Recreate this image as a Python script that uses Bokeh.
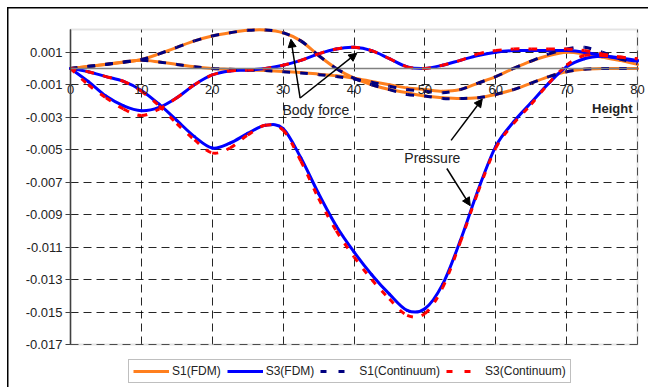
from bokeh.plotting import figure
from bokeh.models import (FixedTicker, PrintfTickFormatter, Label, Arrow, NormalHead, Legend,
                          LegendItem, BoxAnnotation)
from bokeh.embed import file_html
from bokeh.resources import INLINE

# ---------------- data ----------------
height = [0, 2.5, 5, 7.5, 10, 12.5, 15, 17.5, 20, 22.5, 25, 27.5, 30, 32.5, 35, 37.5,
          40, 42.5, 45, 47.5, 50, 52.5, 55, 57.5, 60, 62.5, 65, 67.5, 70, 72.5, 75, 77.5, 80]

# S1 (FDM) - body force curve and pressure curve
s1_fdm_body = [0, 0.00013, 0.00026, 0.0004, 0.00055, 0.0009, 0.0013, 0.0017, 0.002, 0.0022,
               0.00235, 0.00237, 0.0022, 0.0017, 0.0008, 0.0, -0.0006, -0.001, -0.0013, -0.0015,
               -0.0017, -0.0018, -0.00185, -0.0018, -0.0016, -0.0013, -0.0009, -0.0005, -0.0002,
               -0.00005, 0.0, 0.0, 0.0]
s1_fdm_press = [0, 0.00012, 0.00025, 0.00038, 0.0005, 0.0004, 0.00025, 0.0001, 0.0, -0.00005,
                -0.0001, -0.00013, -0.00018, -0.00025, -0.00035, -0.00045, -0.0006, -0.0008, -0.001,
                -0.0012, -0.0013, -0.0014, -0.0013, -0.0009, -0.0005, 0.0, 0.00045, 0.0008, 0.001,
                0.0009, 0.0007, 0.0005, 0.00025]
# S3 (FDM)
s3_fdm_press = [0, -0.0002, -0.0005, -0.0008, -0.00135, -0.0022, -0.0032, -0.0042, -0.0049, -0.0046,
                -0.004, -0.0035, -0.0037, -0.0055, -0.0077, -0.0097, -0.0113, -0.0127, -0.0139, -0.0149,
                -0.0148, -0.0133, -0.0106, -0.0075, -0.0048, -0.0033, -0.0021, -0.0009, 0.0001, 0.0006,
                0.00075, 0.00065, 0.0005]
s3_fdm_body = [0, -0.0008, -0.0017, -0.0023, -0.0026, -0.0024, -0.0018, -0.001, -0.0004, -0.00015,
               -0.0001, 0.0, 0.0002, 0.0005, 0.0009, 0.0012, 0.0013, 0.0011, 0.0006, 0.0001, 0.0,
               0.0002, 0.0005, 0.0008, 0.001, 0.0011, 0.0011, 0.0011, 0.0011, 0.001, 0.0008, 0.0006,
               0.00045]
# S1 (Continuum)
s1_cont_body = [0, 0.00013, 0.00026, 0.0004, 0.00055, 0.0009, 0.0013, 0.0017, 0.002, 0.0022,
                0.00235, 0.00237, 0.0022, 0.0017, 0.0008, 0.0, -0.0006, -0.001, -0.0013, -0.0016,
                -0.0017, -0.00185, -0.00185, -0.0018, -0.0016, -0.0013, -0.0009, -0.0005, -0.0002,
                -0.00005, 0.0, 0.0, 0.0]
s1_cont_press = [0, 0.00012, 0.00025, 0.00038, 0.0005, 0.0004, 0.00025, 0.0001, 0.0, -0.00005,
                 -0.0001, -0.00013, -0.0002, -0.00028, -0.00038, -0.0005, -0.00065, -0.00085, -0.0011,
                 -0.0013, -0.0014, -0.0015, -0.0013, -0.0009, -0.0005, 0.0, 0.00045, 0.0009, 0.0012,
                 0.0013, 0.001, 0.0006, 0.0003]
# S3 (Continuum)
s3_cont_press = [0, -0.0002, -0.0005, -0.0008, -0.0014, -0.0023, -0.0034, -0.0044, -0.0052, -0.0049,
                 -0.0041, -0.0035, -0.0038, -0.0057, -0.008, -0.01, -0.0116, -0.013, -0.0142, -0.0152,
                 -0.0151, -0.0135, -0.0107, -0.0076, -0.0049, -0.0034, -0.0022, -0.0009, 0.0002, 0.0008,
                 0.0008, 0.0007, 0.0006]
s3_cont_body = [0, -0.001, -0.0018, -0.0025, -0.0029, -0.0025, -0.0018, -0.001, -0.0004, -0.00015,
                -0.0001, 0.0, 0.0002, 0.0005, 0.0009, 0.0012, 0.0013, 0.0011, 0.0006, 0.0001, 0.0,
                0.0002, 0.0005, 0.0009, 0.0011, 0.0012, 0.0012, 0.0012, 0.0012, 0.0011, 0.0009, 0.0007,
                0.0006]

x_ticks = [0, 10, 20, 30, 40, 50, 60, 70, 80]
y_ticks = [0.001, -0.001, -0.003, -0.005, -0.007, -0.009, -0.011, -0.013, -0.015, -0.017]
y_min, y_max = -0.017, 0.0024
x_min, x_max = 0, 80
series_labels = ["S1(FDM)", "S3(FDM)", "S1(Continuum)", "S3(Continuum)"]

ORANGE = "#FF7F1E"
BLUE = "#0000FF"
NAVY = "#000080"
RED = "#FF0000"
FONT = "Liberation Sans"
TXT = "#222222"

# ---------------- layout geometry (pixels) ----------------
W, H = 648, 387
PL, PR, PT, PB = 70, 637, 29, 344          # plot-area edges inside the canvas
kx = (PR - PL) / (x_max - x_min)
ky = (PB - PT) / (y_max - y_min)
xr = (x_min - PL / kx, x_max + (W - PR) / kx)
yr = (y_min - (H - PB) / ky, y_max + PT / ky)

# the data frame covers the whole canvas so nothing (labels, legend) is clipped;
# the axes sit at x=0 / y=0 and are bounded to the plot area
p = figure(width=W, height=H, x_range=xr, y_range=yr,
           output_backend="svg", toolbar_location=None, title=None,
           min_border=0)
p.background_fill_color = None
p.border_fill_color = None
p.outline_line_color = None
# outer chart-area border (left and top edges visible in the reference)
p.styles = {"box-shadow": "inset 7px 7px 0 0 #ffffff, inset 8.5px 8.5px 0 0 #000000",
            "background-color": "#ffffff"}

xt = FixedTicker(ticks=x_ticks)
yt = FixedTicker(ticks=y_ticks)

p.xaxis.fixed_location = 0
p.xaxis.bounds = (x_min, x_max)
p.xaxis.ticker = xt
p.xaxis.axis_line_color = "#808080"
p.xaxis.axis_line_width = 1.5
p.xaxis.major_tick_line_color = None
p.xaxis.minor_tick_line_color = None
p.xaxis.major_tick_out = 0
p.xaxis.major_tick_in = 0
p.xaxis.major_label_standoff = 17
p.xaxis.major_label_text_font = FONT
p.xaxis.major_label_text_font_size = "13px"
p.xaxis.major_label_text_color = TXT

p.yaxis.fixed_location = 0
p.yaxis.ticker = yt
p.yaxis.bounds = (y_min, y_max)
p.yaxis.formatter = PrintfTickFormatter(format="%.3f")
p.yaxis.axis_line_color = "#404040"
p.yaxis.axis_line_width = 1.5
p.yaxis.major_tick_line_color = "#404040"
p.yaxis.major_tick_out = 5
p.yaxis.major_tick_in = 0
p.yaxis.minor_tick_line_color = None
p.yaxis.major_label_standoff = 3
p.yaxis.major_label_text_font = FONT
p.yaxis.major_label_text_font_size = "13px"
p.yaxis.major_label_text_color = TXT

p.xgrid.ticker = xt
p.ygrid.ticker = yt
p.xgrid.cross_bounds = (y_min, y_max)
p.ygrid.cross_bounds = (x_min, x_max)
for g in (p.xgrid, p.ygrid):
    g.grid_line_color = "#000000"
    g.grid_line_dash = "8 5"
    g.grid_line_alpha = 0.85
    g.grid_line_width = 1

# plot-area border
p.add_layout(BoxAnnotation(left=x_min, right=x_max, bottom=y_min, top=y_max,
                           fill_alpha=0, line_color="#a6a6a6", line_width=2, level="underlay"))


# ---------------- smoothed lines (Excel-style smoothing drawn as Bezier segments) ----------------
def smooth(xs, ys, **style):
    n = len(xs)
    d = dict(x0=[], y0=[], x1=[], y1=[], cx0=[], cy0=[], cx1=[], cy1=[])
    for i in range(n - 1):
        a = max(i - 1, 0)
        b = min(i + 2, n - 1)
        d["x0"].append(xs[i]); d["y0"].append(ys[i])
        d["x1"].append(xs[i + 1]); d["y1"].append(ys[i + 1])
        d["cx0"].append(xs[i] + (xs[i + 1] - xs[a]) / 6)
        d["cy0"].append(ys[i] + (ys[i + 1] - ys[a]) / 6)
        d["cx1"].append(xs[i + 1] - (xs[b] - xs[i]) / 6)
        d["cy1"].append(ys[i + 1] - (ys[b] - ys[i]) / 6)
    return p.bezier(source=d, x0="x0", y0="y0", x1="x1", y1="y1",
                    cx0="cx0", cy0="cy0", cx1="cx1", cy1="cy1", **style)


solid_orange = dict(line_color=ORANGE, line_width=3, line_cap="round")
solid_blue = dict(line_color=BLUE, line_width=3, line_cap="round")
dash_navy = dict(line_color=NAVY, line_width=3, line_dash="7 10")
dash_red = dict(line_color=RED, line_width=3, line_dash="6 9")

for ys in (s1_fdm_body, s1_fdm_press):
    smooth(height, ys, **solid_orange)
for ys in (s3_fdm_press, s3_fdm_body):
    smooth(height, ys, **solid_blue)
for ys in (s1_cont_body, s1_cont_press):
    smooth(height, ys, **dash_navy)
for ys in (s3_cont_press, s3_cont_body):
    smooth(height, ys, **dash_red)

# legend proxies: one-point lines (invisible on the chart) carrying each series' style
proxies = [
    p.line(height[:1], s1_fdm_body[:1], line_color=ORANGE, line_width=3),
    p.line(height[:1], s3_fdm_body[:1], line_color=BLUE, line_width=3),
    p.line(height[:1], s1_cont_body[:1], line_color=NAVY, line_width=3, line_dash="6 12"),
    p.line(height[:1], s3_cont_body[:1], line_color=RED, line_width=3, line_dash="6 12"),
]

# ---------------- annotations ----------------
def arrow(xs, ys, xe, ye):
    p.add_layout(Arrow(end=NormalHead(size=8, fill_color="black", line_color="black", line_width=1),
                       x_start=xs, y_start=ys, x_end=xe, y_end=ye,
                       line_color="black", line_width=1.5))

arrow(32.4, -0.00182, 31.1, 0.0018)
arrow(32.4, -0.00182, 40.4, 0.00094)
arrow(53.7, -0.00443, 58.1, -0.00188)
arrow(53.1, -0.00616, 56.4, -0.00845)

p.add_layout(Label(x=29.9, y=-0.00258, text="Body force", text_font=FONT, text_font_size="14px",
                   text_color=TXT, text_baseline="middle", text_align="left"))
p.add_layout(Label(x=47.1, y=-0.00553, text="Pressure", text_font=FONT, text_font_size="14px",
                   text_color=TXT, text_baseline="middle", text_align="left"))
p.add_layout(Label(x=79.3, y=-0.00246, text="Height", text_font=FONT, text_font_size="13px",
                   text_font_style="bold", text_color=TXT, text_baseline="middle", text_align="right"))

# ---------------- legend ----------------
lg = Legend(items=[LegendItem(label=lab, renderers=[r]) for lab, r in zip(series_labels, proxies)],
            orientation="horizontal", location=(128, 4))
lg.border_line_color = "#808080"
lg.border_line_width = 1.5
lg.background_fill_color = "white"
lg.background_fill_alpha = 1
lg.label_text_font = FONT
lg.label_text_font_size = "12px"
lg.label_text_color = TXT
lg.glyph_width = 36
lg.glyph_height = 12
lg.label_height = 12
lg.label_standoff = 3
lg.spacing = 6
lg.padding = 4
lg.margin = 0
p.add_layout(lg, "center")

open("out.html", "w").write(file_html(p, INLINE))
